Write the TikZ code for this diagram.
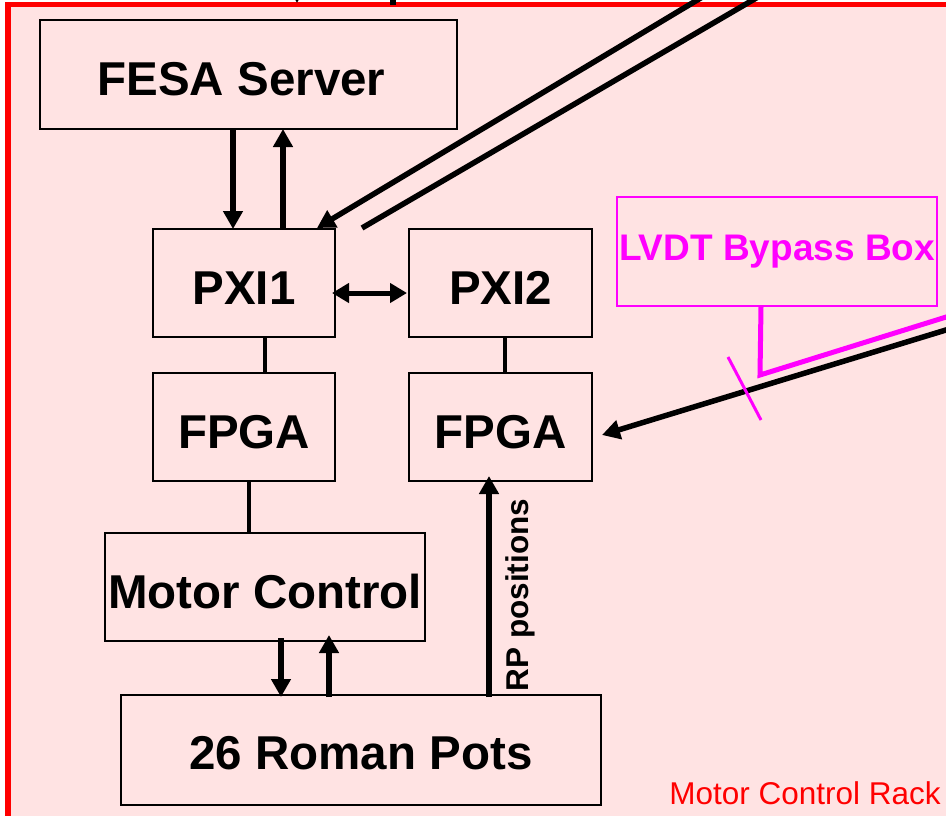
\documentclass[tikz,border=0pt]{standalone}
\usepackage{fontspec}
\setmainfont{Liberation Sans}
\usetikzlibrary{arrows.meta}
\definecolor{bgpink}{RGB}{255,227,227}
\definecolor{mag}{RGB}{255,0,255}
\begin{document}
\begin{tikzpicture}[x=1pt,y=-1pt,
  box/.style={draw=black,line width=2pt,rectangle,inner sep=0pt,
    text height=42pt,text depth=0pt,
    font=\fontsize{47.5}{50}\selectfont\bfseries},
  arr/.style={line width=5.5pt,-{Triangle[width=19pt,length=18pt]}},
  darr/.style={line width=5pt,{Triangle[width=19pt,length=17pt]}-{Triangle[width=19pt,length=17pt]}},
  link/.style={line width=4pt},
  arrow line/.style={line width=5.5pt}]
\useasboundingbox (0,0) rectangle (946,815);
\clip (0,0) rectangle (946,815);
% rack
\fill[white] (0,0) rectangle (946,815);
\draw[red,line width=5.5pt,fill=bgpink] (8,4.5) rectangle (1000,900);
% fragments of arrows from above
\draw[arr] (297,-60) -- (297,3);
\draw[arrow line] (393,-60) -- (393,5);
% boxes
\node[box,minimum width=417pt,minimum height=109pt] (fesa) at (248.5,74.5) {\hspace*{-14pt}FESA Server};
\node[box,minimum width=182pt,minimum height=108pt] (pxi1) at (244,283) {PXI1};
\node[box,minimum width=183pt,minimum height=108pt] (pxi2) at (500.5,283) {PXI2};
\node[box,minimum width=182pt,minimum height=108pt] (fpga1) at (244,427) {FPGA};
\node[box,minimum width=183pt,minimum height=108pt] (fpga2) at (500.5,427) {FPGA};
\node[box,minimum width=320pt,minimum height=108pt] (motor) at (265,587) {Motor Control};
\node[box,minimum width=480pt,minimum height=110pt,text height=38pt] (pots) at (361,750) {26 Roman Pots};
\node[draw=mag,line width=1.8pt,minimum width=320pt,minimum height=109pt,inner sep=0pt,
  text=mag,font=\fontsize{37}{40}\selectfont\bfseries] (lvdt) at (777,251.5) {LVDT Bypass Box};
% reference x positions
\coordinate (xa) at (233,0);
\coordinate (xb) at (283,0);
\coordinate (xc) at (265,0);
\coordinate (xd) at (505,0);
\coordinate (xe) at (249,0);
\coordinate (xf) at (281,0);
\coordinate (xg) at (329,0);
\coordinate (xh) at (489,0);
\coordinate (ya) at (0,293);
% FESA <-> PXI1
\draw[arr] (fesa.south -| xa) -- ([yshift=-1pt]pxi1.north -| xa);
\draw[arr] (pxi1.north -| xb) -- ([yshift=1pt]fesa.south -| xb);
% PXI1 <-> PXI2
\draw[darr] ([xshift=-4pt]pxi1.east |- ya) -- ([xshift=-1pt]pxi2.west |- ya);
% PXI - FPGA links
\draw[link] (pxi1.south -| xc) -- (fpga1.north -| xc);
\draw[link] (pxi2.south -| xd) -- (fpga2.north -| xd);
\draw[link] (fpga1.south -| xe) -- (motor.north -| xe);
% Motor <-> Pots
\draw[arr] ([yshift=4pt]motor.south -| xf) -- ([yshift=-3pt]pots.north -| xf);
\draw[arr] ([yshift=-3pt]pots.north -| xg) -- ([yshift=7pt]motor.south -| xg);
% RP positions
\draw[arr] ([yshift=-3pt]pots.north -| xh) -- ([yshift=6pt]fpga2.south -| xh);
\node[rotate=90,font=\fontsize{31.5}{33}\selectfont\bfseries] (rp) at (520,595) {RP positions};
% diagonal lines from outside
\coordinate (da) at (714,-10);
\coordinate (db) at (770,-10);
\coordinate (pa) at (317,228);
\coordinate (pb) at (362,228);
\draw[arr] (da) -- (pa);
\draw[arrow line] (db) -- (pb);
% right side
\coordinate (rb) at (960,325.7);
\coordinate (rm) at (960,312.7);
\coordinate (bend) at (760,375);
\coordinate (fp) at (602,435);
\draw[arr] (rb) -- (fp);
\draw[mag,line width=5pt] (rm) -- (bend) -- ([xshift=-16pt]lvdt.south);
\coordinate (t1) at (728,357);
\coordinate (t2) at (761,420);
\draw[mag,line width=3pt] (t1) -- (t2);
% rack label
\node[anchor=base east,text=red,inner sep=0pt,font=\fontsize{31.5}{33}\selectfont] (rack) at (941,804) {Motor Control Rack};
\end{tikzpicture}
\end{document}
